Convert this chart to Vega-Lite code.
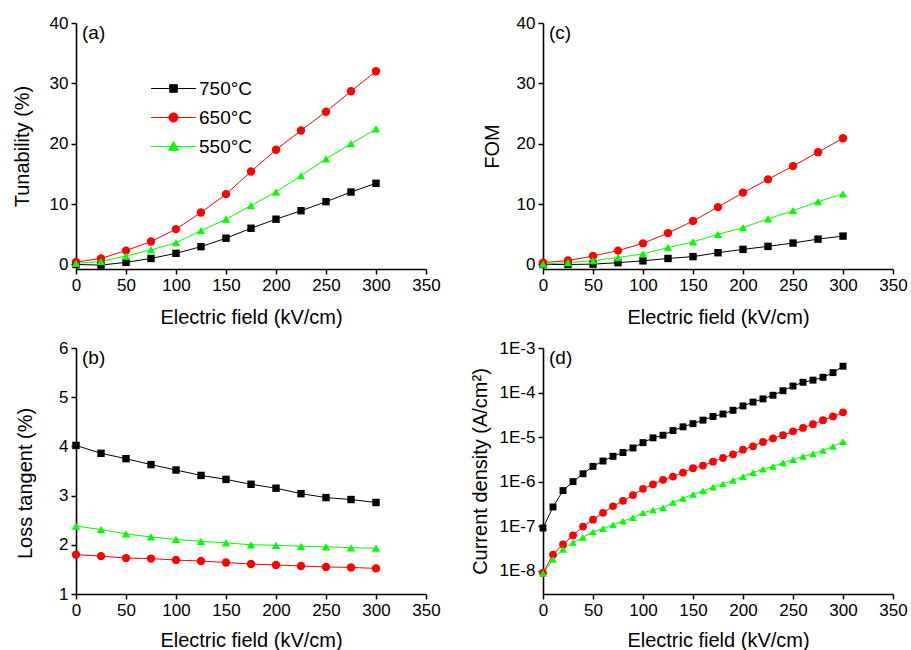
{
"$schema": "https://vega.github.io/schema/vega-lite/v6.json",
"padding": {"left": 12, "top": 14, "right": 5, "bottom": 0},
"config": {
  "font": "Liberation Sans",
  "view": {"stroke": null},
  "axis": {"grid": false, "domainColor": "#000", "domainWidth": 1.6, "tickColor": "#000", "tickWidth": 1.5, "tickSize": 5, "labelFontSize": 17, "labelColor": "#000", "labelPadding": 3, "labelFlush": false, "labelOverlap": false, "titleFontSize": 20, "titleFontWeight": "normal", "titleColor": "#000", "labelFont": "Liberation Sans", "titleFont": "Liberation Sans"},
  "axisX": {"titlePadding": 14},
  "title": {"anchor": "start", "frame": "group", "baseline": "top", "fontSize": 19, "fontWeight": "normal", "color": "#000", "font": "Liberation Sans", "offset": 0, "dx": 6, "dy": 33}
},
"datasets": {
  "tun": [
    {"E":0,"T":"750°C","v":0.0},{"E":25,"T":"750°C","v":-0.1},{"E":50,"T":"750°C","v":0.35},{"E":75,"T":"750°C","v":1.0},{"E":100,"T":"750°C","v":1.85},{"E":125,"T":"750°C","v":2.95},{"E":150,"T":"750°C","v":4.35},{"E":175,"T":"750°C","v":6.0},{"E":200,"T":"750°C","v":7.5},{"E":225,"T":"750°C","v":8.9},{"E":250,"T":"750°C","v":10.4},{"E":275,"T":"750°C","v":12.0},{"E":300,"T":"750°C","v":13.45},
    {"E":0,"T":"650°C","v":0.4},{"E":25,"T":"650°C","v":1.0},{"E":50,"T":"650°C","v":2.3},{"E":75,"T":"650°C","v":3.8},{"E":100,"T":"650°C","v":5.85},{"E":125,"T":"650°C","v":8.6},{"E":150,"T":"650°C","v":11.65},{"E":175,"T":"650°C","v":15.4},{"E":200,"T":"650°C","v":19.0},{"E":225,"T":"650°C","v":22.2},{"E":250,"T":"650°C","v":25.3},{"E":275,"T":"650°C","v":28.7},{"E":300,"T":"650°C","v":32.0},
    {"E":0,"T":"550°C","v":0.2},{"E":25,"T":"550°C","v":0.5},{"E":50,"T":"550°C","v":1.4},{"E":75,"T":"550°C","v":2.4},{"E":100,"T":"550°C","v":3.6},{"E":125,"T":"550°C","v":5.6},{"E":150,"T":"550°C","v":7.5},{"E":175,"T":"550°C","v":9.75},{"E":200,"T":"550°C","v":12.0},{"E":225,"T":"550°C","v":14.7},{"E":250,"T":"550°C","v":17.5},{"E":275,"T":"550°C","v":20.0},{"E":300,"T":"550°C","v":22.45}
  ],
  "fom": [
    {"E":0,"T":"750°C","v":0.0},{"E":25,"T":"750°C","v":0.0},{"E":50,"T":"750°C","v":0.05},{"E":75,"T":"750°C","v":0.3},{"E":100,"T":"750°C","v":0.6},{"E":125,"T":"750°C","v":1.0},{"E":150,"T":"750°C","v":1.3},{"E":175,"T":"750°C","v":1.95},{"E":200,"T":"750°C","v":2.5},{"E":225,"T":"750°C","v":3.0},{"E":250,"T":"750°C","v":3.55},{"E":275,"T":"750°C","v":4.2},{"E":300,"T":"750°C","v":4.7},
    {"E":0,"T":"650°C","v":0.3},{"E":25,"T":"650°C","v":0.65},{"E":50,"T":"650°C","v":1.4},{"E":75,"T":"650°C","v":2.3},{"E":100,"T":"650°C","v":3.5},{"E":125,"T":"650°C","v":5.2},{"E":150,"T":"650°C","v":7.2},{"E":175,"T":"650°C","v":9.5},{"E":200,"T":"650°C","v":11.9},{"E":225,"T":"650°C","v":14.1},{"E":250,"T":"650°C","v":16.3},{"E":275,"T":"650°C","v":18.6},{"E":300,"T":"650°C","v":20.9},
    {"E":0,"T":"550°C","v":0.05},{"E":25,"T":"550°C","v":0.3},{"E":50,"T":"550°C","v":0.65},{"E":75,"T":"550°C","v":1.15},{"E":100,"T":"550°C","v":1.75},{"E":125,"T":"550°C","v":2.8},{"E":150,"T":"550°C","v":3.75},{"E":175,"T":"550°C","v":5.0},{"E":200,"T":"550°C","v":6.1},{"E":225,"T":"550°C","v":7.55},{"E":250,"T":"550°C","v":8.9},{"E":275,"T":"550°C","v":10.4},{"E":300,"T":"550°C","v":11.7}
  ],
  "loss": [
    {"E":0,"T":"750°C","v":4.02},{"E":25,"T":"750°C","v":3.86},{"E":50,"T":"750°C","v":3.75},{"E":75,"T":"750°C","v":3.63},{"E":100,"T":"750°C","v":3.52},{"E":125,"T":"750°C","v":3.41},{"E":150,"T":"750°C","v":3.33},{"E":175,"T":"750°C","v":3.23},{"E":200,"T":"750°C","v":3.15},{"E":225,"T":"750°C","v":3.04},{"E":250,"T":"750°C","v":2.96},{"E":275,"T":"750°C","v":2.92},{"E":300,"T":"750°C","v":2.86},
    {"E":0,"T":"650°C","v":1.80},{"E":25,"T":"650°C","v":1.77},{"E":50,"T":"650°C","v":1.73},{"E":75,"T":"650°C","v":1.72},{"E":100,"T":"650°C","v":1.69},{"E":125,"T":"650°C","v":1.67},{"E":150,"T":"650°C","v":1.64},{"E":175,"T":"650°C","v":1.61},{"E":200,"T":"650°C","v":1.59},{"E":225,"T":"650°C","v":1.57},{"E":250,"T":"650°C","v":1.55},{"E":275,"T":"650°C","v":1.54},{"E":300,"T":"650°C","v":1.52},
    {"E":0,"T":"550°C","v":2.38},{"E":25,"T":"550°C","v":2.31},{"E":50,"T":"550°C","v":2.22},{"E":75,"T":"550°C","v":2.16},{"E":100,"T":"550°C","v":2.11},{"E":125,"T":"550°C","v":2.07},{"E":150,"T":"550°C","v":2.04},{"E":175,"T":"550°C","v":2.0},{"E":200,"T":"550°C","v":1.99},{"E":225,"T":"550°C","v":1.97},{"E":250,"T":"550°C","v":1.96},{"E":275,"T":"550°C","v":1.94},{"E":300,"T":"550°C","v":1.93}
  ],
  "cur": [
    {"E":0,"T":"750°C","v":9.1e-8},{"E":10,"T":"750°C","v":2.7e-7},{"E":20,"T":"750°C","v":6.3e-7},{"E":30,"T":"750°C","v":1.0e-6},{"E":40,"T":"750°C","v":1.5e-6},{"E":50,"T":"750°C","v":2.2e-6},{"E":60,"T":"750°C","v":2.9e-6},{"E":70,"T":"750°C","v":3.7e-6},{"E":80,"T":"750°C","v":4.5e-6},{"E":90,"T":"750°C","v":5.7e-6},{"E":100,"T":"750°C","v":7.5e-6},{"E":110,"T":"750°C","v":9.6e-6},{"E":120,"T":"750°C","v":1.1e-5},{"E":130,"T":"750°C","v":1.4e-5},{"E":140,"T":"750°C","v":1.7e-5},{"E":150,"T":"750°C","v":2.0e-5},{"E":160,"T":"750°C","v":2.4e-5},{"E":170,"T":"750°C","v":2.9e-5},{"E":180,"T":"750°C","v":3.3e-5},{"E":190,"T":"750°C","v":4.0e-5},{"E":200,"T":"750°C","v":5.0e-5},{"E":210,"T":"750°C","v":6.1e-5},{"E":220,"T":"750°C","v":7.2e-5},{"E":230,"T":"750°C","v":8.7e-5},{"E":240,"T":"750°C","v":1.1e-4},{"E":250,"T":"750°C","v":1.4e-4},{"E":260,"T":"750°C","v":1.7e-4},{"E":270,"T":"750°C","v":1.9e-4},{"E":280,"T":"750°C","v":2.2e-4},{"E":290,"T":"750°C","v":2.8e-4},{"E":300,"T":"750°C","v":3.9e-4},
    {"E":0,"T":"650°C","v":8.9e-9},{"E":10,"T":"650°C","v":2.3e-8},{"E":20,"T":"650°C","v":3.9e-8},{"E":30,"T":"650°C","v":6.2e-8},{"E":40,"T":"650°C","v":9.8e-8},{"E":50,"T":"650°C","v":1.4e-7},{"E":60,"T":"650°C","v":2.0e-7},{"E":70,"T":"650°C","v":2.8e-7},{"E":80,"T":"650°C","v":3.7e-7},{"E":90,"T":"650°C","v":5.0e-7},{"E":100,"T":"650°C","v":6.9e-7},{"E":110,"T":"650°C","v":8.7e-7},{"E":120,"T":"650°C","v":1.1e-6},{"E":130,"T":"650°C","v":1.3e-6},{"E":140,"T":"650°C","v":1.6e-6},{"E":150,"T":"650°C","v":2.0e-6},{"E":160,"T":"650°C","v":2.3e-6},{"E":170,"T":"650°C","v":2.8e-6},{"E":180,"T":"650°C","v":3.4e-6},{"E":190,"T":"650°C","v":4.1e-6},{"E":200,"T":"650°C","v":5.2e-6},{"E":210,"T":"650°C","v":6.2e-6},{"E":220,"T":"650°C","v":7.8e-6},{"E":230,"T":"650°C","v":9.4e-6},{"E":240,"T":"650°C","v":1.1e-5},{"E":250,"T":"650°C","v":1.35e-5},{"E":260,"T":"650°C","v":1.6e-5},{"E":270,"T":"650°C","v":1.95e-5},{"E":280,"T":"650°C","v":2.4e-5},{"E":290,"T":"650°C","v":2.9e-5},{"E":300,"T":"650°C","v":3.6e-5},
    {"E":0,"T":"550°C","v":8.7e-9},{"E":10,"T":"550°C","v":1.8e-8},{"E":20,"T":"550°C","v":3.0e-8},{"E":30,"T":"550°C","v":4.3e-8},{"E":40,"T":"550°C","v":5.6e-8},{"E":50,"T":"550°C","v":7.4e-8},{"E":60,"T":"550°C","v":8.8e-8},{"E":70,"T":"550°C","v":1.07e-7},{"E":80,"T":"550°C","v":1.3e-7},{"E":90,"T":"550°C","v":1.55e-7},{"E":100,"T":"550°C","v":2.0e-7},{"E":110,"T":"550°C","v":2.3e-7},{"E":120,"T":"550°C","v":2.6e-7},{"E":130,"T":"550°C","v":3.4e-7},{"E":140,"T":"550°C","v":4.2e-7},{"E":150,"T":"550°C","v":5.2e-7},{"E":160,"T":"550°C","v":6.2e-7},{"E":170,"T":"550°C","v":7.5e-7},{"E":180,"T":"550°C","v":8.9e-7},{"E":190,"T":"550°C","v":1.07e-6},{"E":200,"T":"550°C","v":1.3e-6},{"E":210,"T":"550°C","v":1.6e-6},{"E":220,"T":"550°C","v":1.9e-6},{"E":230,"T":"550°C","v":2.2e-6},{"E":240,"T":"550°C","v":2.65e-6},{"E":250,"T":"550°C","v":3.1e-6},{"E":260,"T":"550°C","v":3.7e-6},{"E":270,"T":"550°C","v":4.2e-6},{"E":280,"T":"550°C","v":5.0e-6},{"E":290,"T":"550°C","v":6.2e-6},{"E":300,"T":"550°C","v":7.9e-6}
  ]
},
"columns": 2,
"spacing": {"row": 79, "column": 117},
"bounds": "flush",
"resolve": {"scale": {"color": "independent", "shape": "independent"}},
"concat": [
  {
    "width": 350, "height": 246,
    "title": {"text": "(a)"},
    "data": {"name": "tun"},
    "encoding": {
      "x": {"field": "E", "type": "quantitative", "scale": {"domain": [0, 350], "nice": false}, "axis": {"values": [0, 50, 100, 150, 200, 250, 300, 350], "title": "Electric field (kV/cm)"}},
      "y": {"field": "v", "type": "quantitative", "scale": {"domain": [-0.75, 40], "nice": false, "zero": false}, "axis": {"values": [0, 10, 20, 30, 40], "title": "Tunability (%)", "titlePadding": 17}},
      "color": {"field": "T", "type": "nominal", "scale": {"domain": ["750°C", "650°C", "550°C"], "range": ["#000000", "#ff0000", "#00ff00"]},
        "legend": {"orient": "none", "legendX": 88, "legendY": 56, "title": null, "labelFontSize": 19, "labelFont": "Liberation Sans", "labelColor": "#000", "symbolSize": 64, "labelOffset": 16, "rowPadding": 9, "padding": 0,
           "encode": {"symbols": {"update": {
             "shape": {"signal": "datum.value === '750°C' ? 'M-5.6,0H5.6M-0.95,-0.95H0.95V0.95H-0.95Z' : datum.value === '650°C' ? 'M-5.6,0H5.6M1.15,0A1.15,1.15,0,1,1,-1.15,0A1.15,1.15,0,1,1,1.15,0Z' : 'M-5.6,0H5.6M0,-1.25L1.25,0.95H-1.25Z'"},
             "fill": {"signal": "datum.value === '750°C' ? '#000000' : datum.value === '650°C' ? '#ff0000' : '#00ff00'"},
             "stroke": {"signal": "datum.value === '750°C' ? '#000000' : datum.value === '650°C' ? '#ff0000' : '#00ff00'"},
             "strokeWidth": {"value": 1},
             "opacity": {"value": 1}
           }}}}}
    },
    "layer": [
      {"mark": {"type": "line", "strokeWidth": 1}},
      {"transform": [{"filter": "datum.T === '750°C'"}], "mark": {"type": "point", "shape": "square", "filled": true, "size": 55, "opacity": 1}},
      {"transform": [{"filter": "datum.T === '650°C'"}], "mark": {"type": "point", "shape": "circle", "filled": true, "size": 70, "opacity": 1}},
      {"transform": [{"filter": "datum.T === '550°C'"}], "mark": {"type": "point", "shape": "triangle-up", "filled": true, "size": 70, "opacity": 1}}
    ]
  },
  {
    "width": 350, "height": 246,
    "title": {"text": "(c)"},
    "data": {"name": "fom"},
    "encoding": {
      "x": {"field": "E", "type": "quantitative", "scale": {"domain": [0, 350], "nice": false}, "axis": {"values": [0, 50, 100, 150, 200, 250, 300, 350], "title": "Electric field (kV/cm)"}},
      "y": {"field": "v", "type": "quantitative", "scale": {"domain": [-0.75, 40], "nice": false, "zero": false}, "axis": {"values": [0, 10, 20, 30, 40], "title": "FOM", "titlePadding": 14}},
      "color": {"field": "T", "type": "nominal", "scale": {"domain": ["750°C", "650°C", "550°C"], "range": ["#000000", "#ff0000", "#00ff00"]}, "legend": null}
    },
    "layer": [
      {"mark": {"type": "line", "strokeWidth": 1}},
      {"transform": [{"filter": "datum.T === '750°C'"}], "mark": {"type": "point", "shape": "square", "filled": true, "size": 55, "opacity": 1}},
      {"transform": [{"filter": "datum.T === '650°C'"}], "mark": {"type": "point", "shape": "circle", "filled": true, "size": 70, "opacity": 1}},
      {"transform": [{"filter": "datum.T === '550°C'"}], "mark": {"type": "point", "shape": "triangle-up", "filled": true, "size": 70, "opacity": 1}}
    ]
  },
  {
    "width": 350, "height": 246,
    "title": {"text": "(b)"},
    "data": {"name": "loss"},
    "encoding": {
      "x": {"field": "E", "type": "quantitative", "scale": {"domain": [0, 350], "nice": false}, "axis": {"values": [0, 50, 100, 150, 200, 250, 300, 350], "title": "Electric field (kV/cm)", "titlePadding": 12}},
      "y": {"field": "v", "type": "quantitative", "scale": {"domain": [1, 6], "nice": false, "zero": false}, "axis": {"values": [1, 2, 3, 4, 5, 6], "title": "Loss tangent (%)", "titlePadding": 23, "titleY": 135}},
      "color": {"field": "T", "type": "nominal", "scale": {"domain": ["750°C", "650°C", "550°C"], "range": ["#000000", "#ff0000", "#00ff00"]}, "legend": null}
    },
    "layer": [
      {"mark": {"type": "line", "strokeWidth": 1}},
      {"transform": [{"filter": "datum.T === '750°C'"}], "mark": {"type": "point", "shape": "square", "filled": true, "size": 55, "opacity": 1}},
      {"transform": [{"filter": "datum.T === '650°C'"}], "mark": {"type": "point", "shape": "circle", "filled": true, "size": 70, "opacity": 1}},
      {"transform": [{"filter": "datum.T === '550°C'"}], "mark": {"type": "point", "shape": "triangle-up", "filled": true, "size": 70, "opacity": 1}}
    ]
  },
  {
    "width": 350, "height": 246,
    "title": {"text": "(d)"},
    "data": {"name": "cur"},
    "encoding": {
      "x": {"field": "E", "type": "quantitative", "scale": {"domain": [0, 350], "nice": false}, "axis": {"values": [0, 50, 100, 150, 200, 250, 300, 350], "title": "Electric field (kV/cm)", "titlePadding": 12}},
      "y": {"field": "v", "type": "quantitative", "scale": {"type": "log", "domain": [3e-9, 1e-3], "nice": false}, "axis": {"values": [1e-8, 1e-7, 1e-6, 1e-5, 1e-4, 1e-3], "labelExpr": "'1E' + round(log(datum.value) / LN10)", "title": "Current density (A/cm²)", "titlePadding": 9}},
      "color": {"field": "T", "type": "nominal", "scale": {"domain": ["750°C", "650°C", "550°C"], "range": ["#000000", "#ff0000", "#00ff00"]}, "legend": null}
    },
    "layer": [
      {"mark": {"type": "line", "strokeWidth": 1}},
      {"transform": [{"filter": "datum.T === '750°C'"}], "mark": {"type": "point", "shape": "square", "filled": true, "size": 48, "opacity": 1}},
      {"transform": [{"filter": "datum.T === '650°C'"}], "mark": {"type": "point", "shape": "circle", "filled": true, "size": 60, "opacity": 1}},
      {"transform": [{"filter": "datum.T === '550°C'"}], "mark": {"type": "point", "shape": "triangle-up", "filled": true, "size": 60, "opacity": 1}}
    ]
  }
]
}
